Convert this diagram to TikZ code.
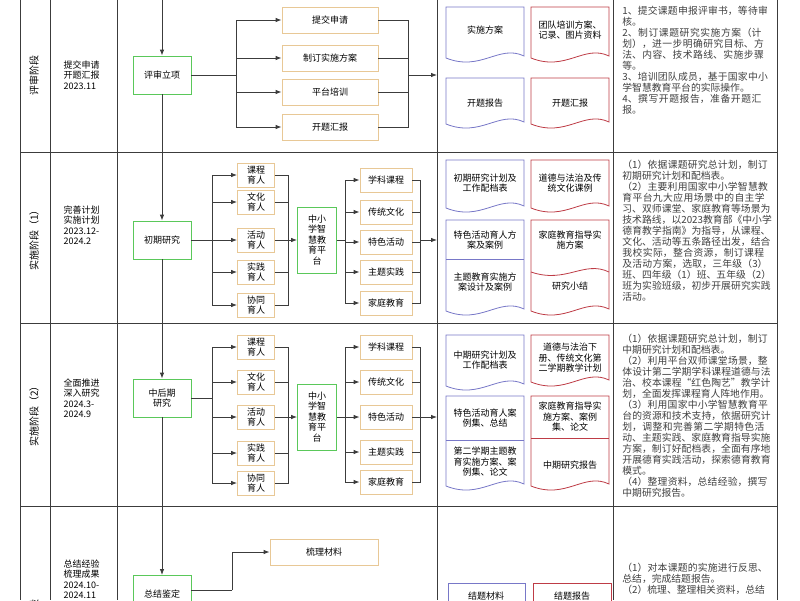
\documentclass[tikz,border=0pt]{standalone}
\usepackage{fontspec}
\setmainfont{Noto Sans CJK SC}
\XeTeXlinebreaklocale "zh"
\XeTeXlinebreakskip = 0pt plus 1pt
\usetikzlibrary{positioning, arrows.meta}
\definecolor{lgreen}{RGB}{90,200,90}
\definecolor{lorange}{RGB}{232,200,150}
\definecolor{dblue}{RGB}{120,120,200}
\definecolor{dred}{RGB}{190,60,70}
\definecolor{lline}{RGB}{60,60,60}
% document shape with a wavy foot
\newcommand{\docshape}[5]{%
  \draw[#5, thick] (#1,#2) -- (#3,#2) -- (#3,#4-6)
    .. controls (#3-25,#4-18) and (#1+35,#4+10) .. (#1,#4-4) -- cycle;}
\newcommand{\wavyline}[4]{%
  \draw[#4, thick] (#2,#3) .. controls (#2-25,#3-12) and (#1+35,#3+12) .. (#1,#3);}

\begin{document}
\begin{tikzpicture}[
      x = 1pt, y = -1pt,
      font = \fontsize{9}{10.5}\selectfont,
      line width = 0.8pt,
      arr/.style = {-{Latex[length=6pt,width=4.5pt]}, color = lline},
      con/.style = {color = lline},
      green/.style = {draw = lgreen, thick, align = center,
        minimum width = 58pt, minimum height = 38pt},
      org/.style = {draw = lorange, thick, align = center, inner sep = 1pt,
        minimum height = 24pt},
      plat/.style = {draw = lgreen, thick, align = center, inner sep = 1pt,
        minimum width = 39pt, minimum height = 66pt},
      note/.style = {align = left, text width = 150pt, anchor = north west,
        font = \fontsize{9.8}{11}\selectfont, color = black!75, inner sep = 0pt}]

  \useasboundingbox (0,0) rectangle (800,600);
  \fill[white] (0,0) rectangle (800,600);

  % table grid
  \foreach \x in {20,50,117,437,613,777}
    \draw[con] (\x,0) -- (\x,600);
  \foreach \y in {152,323,506}
    \draw[con] (20,\y) -- (777,\y);

  % stage labels
  \node[rotate = 90, font = \fontsize{10}{12}\selectfont] (s1) at (34,75) {评审阶段};
  \node[rotate = 90, font = \fontsize{10}{12}\selectfont] (s2) at (34,238) {实施阶段（1）};
  \node[rotate = 90, font = \fontsize{10}{12}\selectfont] (s3) at (34,414) {实施阶段（2）};
  \node[rotate = 90, anchor = east, font = \fontsize{10}{12}\selectfont] (s4) at (34,596) {总结阶段};
  \node[align = left, anchor = west] (t1) at (60,75) {提交申请\\开题汇报\\2023.11};
  \node[align = left, anchor = west] (t2) at (60,225) {完善计划\\实施计划\\2023.12-\\2024.2};
  \node[align = left, anchor = west] (t3) at (60,398) {全面推进\\深入研究\\2024.3-\\2024.9};
  \node[align = left, anchor = north west] (t4) at (60,556) {总结经验\\梳理成果\\2024.10-\\2024.11};

  % main flow
  \coordinate (top) at (162,0);
  \node[green] (r1) at (162,75) {评审立项};
  \node[green] (r2) at (162,240) {初期研究};
  \node[green] (r3) at (162,398) {中后期\\研究};
  \node[green, anchor = north] (r4) at (162,575) {总结鉴定};
  \draw[arr] (top) -- (r1);
  \draw[arr] (r1) -- (r2);
  \draw[arr] (r2) -- (r3);
  \draw[arr] (r3) -- (r4);

  % stage 1
  \coordinate (b1) at (236,75);
  \coordinate (j1) at (408,75);
  \coordinate (in1) at (437,75);
  \draw[con] (r1) -- (b1);
  \foreach \y/\t/\n in {20/提交申请/a, 58/制订实施方案/b, 92/平台培训/c, 127/开题汇报/d} {
    \node[org, minimum width = 96pt, minimum height = 26pt] (r1\n) at (330,\y) {\t};
    \draw[arr] (b1) |- (r1\n.west);
    \draw[con] (r1\n.east) -| (j1);
  }
  \draw[arr] (j1) -- (in1);

  % stage 2
  \coordinate (b2) at (212,240);
  \coordinate (j2) at (288,240);
  \draw[con] (r2) -- (b2);
  \foreach \y/\t/\n in {175/课程/1, 202/文化/2, 240/活动/3, 272/实践/4, 305/协同/5} {
    \node[org, minimum width = 37pt] (r2k\n) at (256,\y) {\t\\育人};
    \draw[arr] (b2) |- (r2k\n.west);
    \draw[con] (r2k\n.east) -| (j2);
  }
  \node[plat] (r2p) at (317,240) {中小\\学智\\慧教\\育平\\台};
  \draw[arr] (j2) -- (r2p);
  \coordinate (c2) at (345,240);
  \coordinate (e2) at (420,240);
  \coordinate (in2) at (437,240);
  \draw[con] (r2p) -- (c2);
  \foreach \y/\t/\n in {180/学科课程/1, 212/传统文化/2, 242/特色活动/3, 272/主题实践/4, 303/家庭教育/5} {
    \node[org, minimum width = 52pt] (r2t\n) at (386,\y) {\t};
    \draw[arr] (c2) |- (r2t\n.west);
    \draw[con] (r2t\n.east) -| (e2);
  }
  \draw[arr] (e2) -- (in2);

  % stage 3
  \coordinate (b3) at (212,398);
  \coordinate (j3) at (288,417);
  \draw[con] (r3) -- (b3);
  \foreach \y/\t/\n in {347/课程/1, 382/文化/2, 417/活动/3, 453/实践/4, 483/协同/5} {
    \node[org, minimum width = 37pt] (r3k\n) at (256,\y) {\t\\育人};
    \draw[arr] (b3) |- (r3k\n.west);
    \draw[con] (r3k\n.east) -| (j3);
  }
  \node[plat] (r3p) at (317,417) {中小\\学智\\慧教\\育平\\台};
  \draw[arr] (j3) -- (r3p);
  \coordinate (c3) at (345,417);
  \coordinate (e3) at (420,417);
  \coordinate (in3) at (437,417);
  \draw[con] (r3p) -- (c3);
  \foreach \y/\t/\n in {347/学科课程/1, 382/传统文化/2, 417/特色活动/3, 452/主题实践/4, 482/家庭教育/5} {
    \node[org, minimum width = 52pt] (r3t\n) at (386,\y) {\t};
    \draw[arr] (c3) |- (r3t\n.west);
    \draw[con] (r3t\n.east) -| (e3);
  }
  \draw[arr] (e3) -- (in3);

  % stage 4
  \node[org, minimum width = 108pt, minimum height = 26pt] (r4a) at (324,552) {梳理材料};
  \coordinate (b4) at (232,590);
  \draw[con] (r4.east |- b4) -- (b4);
  \draw[arr] (b4) |- (r4a.west);

  % documents, stage 1
  \docshape{446}{7}{524}{62}{dblue}
  \docshape{531}{7}{609}{62}{dred}
  \docshape{446}{78}{524}{128}{dblue}
  \docshape{531}{78}{609}{128}{dred}
  \node (d1a) at (485,30) {实施方案};
  \node[align = center] (d1b) at (570,30) {团队培训方案、\\记录、图片资料};
  \node (d1c) at (485,103) {开题报告};
  \node (d1d) at (570,103) {开题汇报};

  % documents, stage 2
  \docshape{446}{160}{524}{212}{dblue}
  \docshape{531}{160}{609}{212}{dred}
  \docshape{446}{220}{524}{315}{dblue}
  \docshape{531}{220}{609}{315}{dred}
  \draw[dblue, thick] (446,259) -- (524,259);
  \wavyline{531}{609}{272}{dred}
  \node[align = center] (d2a) at (485,183) {初期研究计划及\\工作配档表};
  \node[align = center] (d2b) at (570,183) {道德与法治及传\\统文化课例};
  \node[align = center] (d2c) at (485,240) {特色活动育人方\\案及案例};
  \node[align = center] (d2d) at (485,282) {主题教育实施方\\案设计及案例};
  \node[align = center] (d2e) at (570,240) {家庭教育指导实\\施方案};
  \node (d2f) at (570,286) {研究小结};

  % documents, stage 3
  \docshape{446}{335}{524}{390}{dblue}
  \docshape{531}{335}{609}{386}{dred}
  \docshape{446}{396}{524}{490}{dblue}
  \docshape{531}{396}{609}{490}{dred}
  \draw[dblue, thick] (446,440) -- (524,440);
  \draw[dred, thick] (531,438) -- (609,438);
  \node[align = center] (d3a) at (485,360) {中期研究计划及\\工作配档表};
  \node[align = center] (d3b) at (570,358) {道德与法治下\\册、传统文化第\\二学期教学计划};
  \node[align = center] (d3c) at (485,418) {特色活动育人案\\例集、总结};
  \node[align = center] (d3d) at (485,462) {第二学期主题教\\育实施方案、案\\例集、论文};
  \node[align = center] (d3e) at (570,417) {家庭教育指导实\\施方案、案例\\集、论文};
  \node (d3f) at (570,465) {中期研究报告};

  % documents, stage 4
  \draw[dblue, thick] (448,640) -- (448,583) -- (525,583) -- (525,640);
  \draw[dred, thick] (533,640) -- (533,583) -- (611,583) -- (611,640);
  \node (d4a) at (486,596) {结题材料};
  \node (d4b) at (572,596) {结题报告};

  % notes
  \node[note] (n1) at (622,6) {1、提交课题申报评审书，等待审核。\\2、制订课题研究实施方案（计划），进一步明确研究目标、方法、内容、技术路线、实施步骤等。\\3、培训团队成员，基于国家中小学智慧教育平台的实际操作。\\4、撰写开题报告，准备开题汇报。};
  \node[note] (n2) at (622,160) {（1）依据课题研究总计划，制订初期研究计划和配档表。\\（2）主要利用国家中小学智慧教育平台九大应用场景中的自主学习、双师课堂、家庭教育等场景为技术路线，以2023教育部《中小学德育教学指南》为指导，从课程、文化、活动等五条路径出发，结合我校实际，整合资源，制订课程及活动方案，选取，三年级（3）班、四年级（1）班、五年级（2）班为实验班级，初步开展研究实践活动。};
  \node[note] (n3) at (622,334) {（1）依据课题研究总计划，制订中期研究计划和配档表。\\（2）利用平台双师课堂场景，整体设计第二学期学科课程道德与法治、校本课程“红色陶艺”教学计划，全面发挥课程育人阵地作用。\\（3）利用国家中小学智慧教育平台的资源和技术支持，依据研究计划，调整和完善第二学期特色活动、主题实践、家庭教育指导实施方案，制订好配档表，全面有序地开展德育实践活动，探索德育教育模式。\\（4）整理资料，总结经验，撰写中期研究报告。};
  \node[note] (n4) at (622,563) {（1）对本课题的实施进行反思、总结，完成结题报告。\\（2）梳理、整理相关资料，总结};
\end{tikzpicture}
\end{document}
